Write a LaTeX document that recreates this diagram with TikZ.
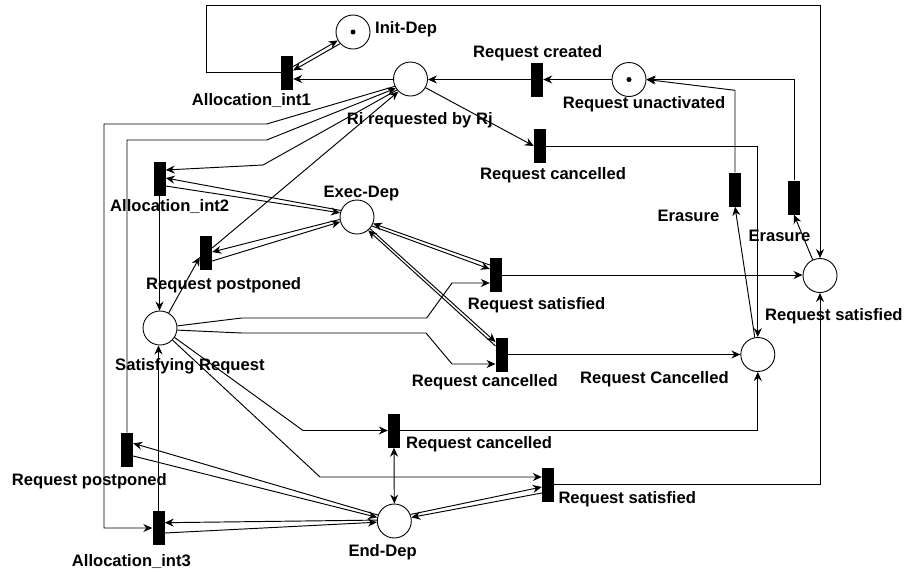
\documentclass[tikz,border=0pt]{standalone}
\usepackage{fontspec}
\setmainfont{Liberation Sans}
\usetikzlibrary{arrows.meta,calc}
\begin{document}
\begin{tikzpicture}[x=1pt,y=-1pt,
  place/.style={circle,draw,line width=0.9pt,minimum size=34pt,inner sep=0pt},
  trans/.style={rectangle,fill=black,minimum width=12pt,minimum height=34pt,inner sep=0pt},
  tok/.style={circle,fill=black,minimum size=5pt,inner sep=0pt},
  lbl/.style={anchor=base west,inner sep=0pt,font=\fontsize{16.6}{19}\selectfont\bfseries},
  arc/.style={line width=0.95pt,-{Stealth[length=9pt,width=8pt,inset=3pt]}},
  barc/.style={line width=0.95pt,{Stealth[length=9pt,width=8pt,inset=3pt]}-{Stealth[length=9pt,width=8pt,inset=3pt]}}
]
\fill[white] (0,0) rectangle (906,571);
\useasboundingbox (0,0) rectangle (906,571);

% places
\node[place] (pinit) at (353,32) {};
\node[tok] (kinit) at (pinit.center) {};
\node[place] (pri) at (410.5,79) {};
\node[place] (punact) at (629,79.5) {};
\node[tok] (kunact) at (punact.center) {};
\node[place] (pexec) at (357,217) {};
\node[place] (psat) at (160,328) {};
\node[place] (prsat) at (820,275.5) {};
\node[place] (prcan) at (757.8,354.5) {};
\node[place] (pend) at (394.3,521) {};

% transitions
\node[trans] (ta1) at (287,72.5) {};
\node[trans] (trc) at (537,79.5) {};
\node[trans] (tcan1) at (540,146) {};
\node[trans] (ter1) at (735,189.5) {};
\node[trans] (ter2) at (794,197.5) {};
\node[trans] (ta2) at (159.5,179) {};
\node[trans] (tpp1) at (206,253) {};
\node[trans] (tsat1) at (496,275) {};
\node[trans] (tcan2) at (501.7,354.5) {};
\node[trans] (tcan3) at (394,430.5) {};
\node[trans] (tsat3) at (548,485) {};
\node[trans] (tpp2) at (127,449.7) {};
\node[trans] (ta3) at (158.5,528) {};

% labels
\node[lbl] (l1) at (375,33.5) {Init-Dep};
\node[lbl] (l2) at (191.7,105) {Allocation\_int1};
\node[lbl] (l3) at (346.7,124) {Ri requested by Rj};
\node[lbl] (l4) at (473,57) {Request created};
\node[lbl] (l5) at (562.7,108.3) {Request unactivated};
\node[lbl] (l6) at (480,179.3) {Request cancelled};
\node[lbl] (l7) at (110,211) {Allocation\_int2};
\node[lbl] (l8) at (323.3,197.3) {Exec-Dep};
\node[lbl] (l9) at (146,289.3) {Request postponed};
\node[lbl] (l10) at (657.3,221.7) {Erasure};
\node[lbl] (l11) at (748.3,241.7) {Erasure};
\node[lbl] (l12) at (765,320) {Request satisfied};
\node[lbl] (l13) at (467.7,309.3) {Request satisfied};
\node[lbl] (l14) at (115,370.7) {Satisfying Request};
\node[lbl] (l15) at (411.7,386.7) {Request cancelled};
\node[lbl] (l16) at (580,383.3) {Request Cancelled};
\node[lbl] (l17) at (406,448.3) {Request cancelled};
\node[lbl] (l18) at (558.3,503.3) {Request satisfied};
\node[lbl] (l19) at (348.3,556) {End-Dep};
\node[lbl] (l20) at (11.7,485) {Request postponed};
\node[lbl] (l21) at (71.7,566) {Allocation\_int3};

% top loop
\draw[arc] (ta1.west) -| (206,5) -- (820,5) -- (prsat.north);
% init <-> a1
\draw[arc] ($(ta1.east)+(0,-6)$) -- (pinit.209);
\draw[arc] (pinit.222) -- ($(ta1.east)+(0,-2)$);
% ri -> a1
\draw[arc] (pri.west) -- (pri.west -| ta1.east);
% unact -> created -> ri
\draw[arc] (punact.west) -- (punact.west -| trc.east);
\draw[arc] (trc.west) -- (trc.west -| pri.east);
% ri -> cancelled top
\draw[arc] (pri.-30) -- (tcan1.west);
\draw[arc] (tcan1.east) -| (prcan.north);
% erasures
\draw[arc] (prcan.100) -- (ter1.south);
\draw[arc] (ter1.north) -- ($(ter1.north)+(0,-82)$) -- (punact.east);
\draw[arc] (ter2.north) |- (punact.east);
\draw[arc] (prsat.115) -- (ter2.south);
% into request satisfied / cancelled places
\draw[arc] (tsat1.east) -- (tsat1.east -| prsat.west);
\draw[arc] ($(tsat3.east)+(0,-1)$) -| (prsat.south);
\draw[arc] (tcan2.east) -- (tcan2.east -| prcan.west);
\draw[arc] (tcan3.east) -| (prcan.south);
% exec <-> sat1
\draw[arc] (pexec.-31) -- ($(tsat1.west)+(0,-6)$);
\draw[arc] ($(tsat1.west)+(0,-10)$) -- (pexec.-22);
% exec <-> can2
\draw[arc] (pexec.-42) -- ($(tcan2.west)+(0,-12.5)$);
\draw[arc] ($(tcan2.west)+(0,-8.5)$) -- (pexec.-50);
% satisfying -> transitions
\draw[arc] (psat.7) -- (241.7,318) -- (426.7,318) -- (452,283) -- ($(tsat1.west)+(0,8)$);
\draw[arc] (psat.-7) -- (241.7,333) -- (426,333) -- (452,364) -- ($(tcan2.west)+(0,9.5)$);
\draw[arc] (psat.-33) -- (303,430.5) -- (tcan3.west);
\draw[arc] (psat.-44) -- (320,477) -- ($(tsat3.west)+(0,-8)$);
% end-dep
\draw[barc] (tcan3.south) -- (pend.north);
\draw[arc] (pend.22) -- ($(tsat3.west)+(0,2)$);
\draw[arc] ($(tsat3.west)+(0,8)$) -- (pend.12);
\draw[arc] (pend.160) -- ($(tpp2.east)+(0,-6.4)$);
\draw[arc] ($(tpp2.east)+(0,6.3)$) -- (pend.168);
\draw[arc] (pend.177) -- ($(ta3.east)+(0,-5.3)$);
\draw[arc] ($(ta3.east)+(0,5)$) -- (pend.184);
% left side
\draw[arc] (pri.205) -- (266.7,124) -- (104,124) -- (104,528) -- (ta3.west);
\draw[arc] (tpp2.north) -- (127,140) -- (266.7,140) -- (pri.212);
\draw[arc] (pri.219) -- (263,165) -- ($(ta2.east)+(0,-9)$);
\draw[arc] ($(tpp1.east)+(0,-5)$) -- (pri.226);
% alloc2 <-> exec, postponed <-> exec
\draw[arc] (pexec.158) -- ($(ta2.east)+(0,-1)$);
\draw[arc] ($(ta2.east)+(0,7)$) -- (pexec.166);
\draw[arc] (pexec.188) -- ($(tpp1.east)+(0,-1)$);
\draw[arc] ($(tpp1.east)+(0,8)$) -- (pexec.196);
% into satisfying request
\draw[arc] (ta2.south) -- (ta2.south |- psat.north);
\draw[arc] (ta3.north) -- (ta3.north |- psat.south);
\draw[arc] (psat.60) -- ($(tpp1.west)+(0,4)$);
\end{tikzpicture}
\end{document}
